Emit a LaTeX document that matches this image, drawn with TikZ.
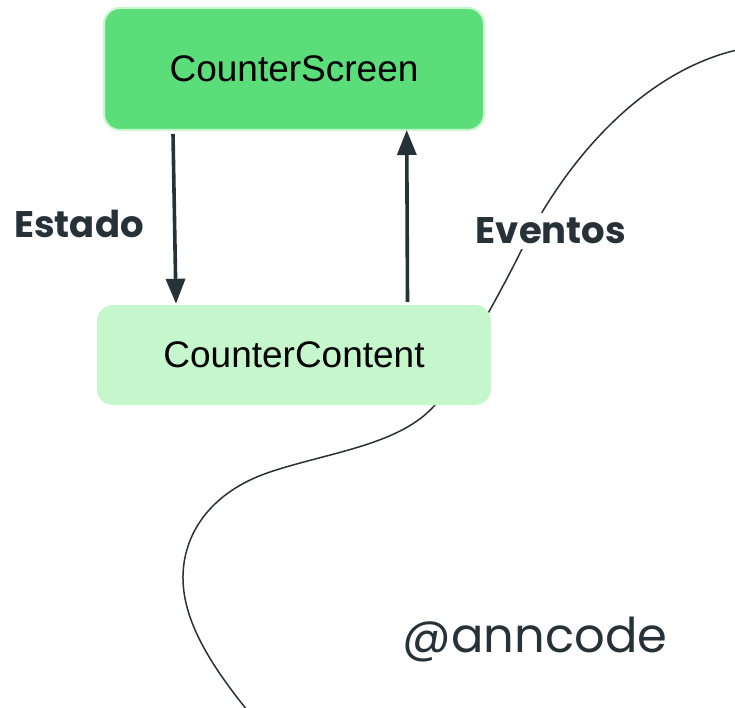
\documentclass[tikz,border=0pt]{standalone}
\usepackage{fontspec}
\setmainfont{Liberation Sans}
\newfontfamily\popp{Poppins}
\usetikzlibrary{arrows.meta,calc}
\definecolor{topgreen}{HTML}{5BDD7A}
\definecolor{lightgreen}{HTML}{C6F7CC}
\definecolor{ink}{HTML}{263238}
\begin{document}
\begin{tikzpicture}[x=1pt,y=-1pt,
 box/.style={rounded corners=16pt, inner sep=0pt, font=\fontsize{37}{44}\selectfont, text=black},
 flow/.style={draw=ink, line width=3.6pt, -{Triangle[length=25pt,width=19pt]}},
 lbl/.style={font=\popp\bfseries\fontsize{37}{44}\selectfont, text=ink, inner sep=5pt},
 wave/.style={draw=ink, line width=1.5pt}]
\useasboundingbox (0,0) rectangle (735,708);
\draw[wave] (737,50) .. controls (650,70) and (570,150) .. (520,253)
  .. controls (505,284) and (460,365) .. (435,405)
  .. controls (400,445) and (330,452) .. (270,472)
  .. controls (210,492) and (182,535) .. (183,580)
  .. controls (184,625) and (215,670) .. (247,710);
\node[box, fill=topgreen, draw=lightgreen, line width=2pt, minimum width=380pt, minimum height=122pt] (screen) at (294,69) {CounterScreen};
\node[box, fill=lightgreen, minimum width=394pt, minimum height=100pt] (content) at (294,355) {CounterContent};
\draw[flow] ($(screen.south)+(-121,3)$) -- ($(content.north)+(-118,-1)$);
\draw[flow] ($(content.north)+(113.5,-3)$) -- ($(screen.south)+(112.7,-1)$);
\node[lbl] (estado) at (79,224) {Estado};
\node[lbl, fill=white] (eventos) at (551,231) {Eventos};
\node[font=\popp\fontsize{48}{56}\selectfont, text=ink] (sig) at (535,640) {@anncode};
\end{tikzpicture}
\end{document}
